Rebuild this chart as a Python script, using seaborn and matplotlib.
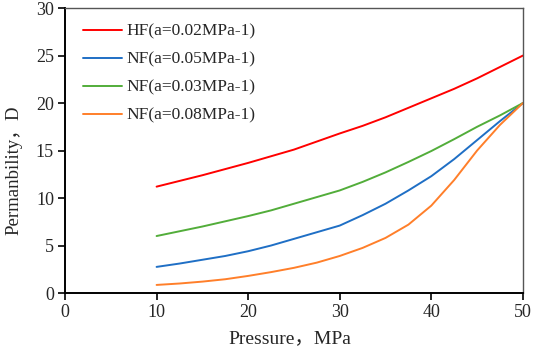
import pandas as pd
import matplotlib
matplotlib.use("Agg")
import matplotlib.pyplot as plt
import seaborn as sns

# Values
pressure = [10, 12.5, 15, 17.5, 20, 22.5, 25, 27.5, 30, 32.5, 35, 37.5, 40, 42.5, 45, 47.5, 50]
hf_002 = [11.2, 11.8, 12.4, 13.05, 13.7, 14.4, 15.1, 15.95, 16.8, 17.6, 18.5, 19.5, 20.5, 21.5, 22.6, 23.8, 25.0]
nf_005 = [2.75, 3.1, 3.5, 3.9, 4.4, 5.0, 5.7, 6.4, 7.1, 8.2, 9.4, 10.8, 12.3, 14.1, 16.1, 18.1, 20.0]
nf_003 = [6.0, 6.5, 7.0, 7.55, 8.1, 8.7, 9.4, 10.1, 10.8, 11.7, 12.7, 13.8, 14.95, 16.2, 17.5, 18.7, 20.0]
nf_008 = [0.85, 1.0, 1.2, 1.45, 1.8, 2.2, 2.65, 3.2, 3.9, 4.75, 5.8, 7.2, 9.2, 11.9, 15.0, 17.7, 20.0]

labels = ["HF(a=0.02MPa-1)", "NF(a=0.05MPa-1)", "NF(a=0.03MPa-1)", "NF(a=0.08MPa-1)"]
colors = ["#ff0000", "#1f6fc5", "#52ad3a", "#ff7f2a"]

df = pd.concat([
    pd.DataFrame({"Pressure": pressure, "Perm": vals, "series": lab})
    for lab, vals in zip(labels, [hf_002, nf_005, nf_003, nf_008])
])

sns.set_style("ticks")
plt.rcParams["font.family"] = ["Liberation Serif", "Noto Sans CJK SC"]

fig = plt.figure(figsize=(5.33, 3.52), dpi=100)
ax = fig.add_axes([0.122, 0.1676, 0.859, 0.8094])

sns.lineplot(data=df, x="Pressure", y="Perm", hue="series", hue_order=labels,
             palette=dict(zip(labels, colors)), linewidth=1.4, ax=ax)

ax.set_xlim(0, 50)
ax.set_ylim(0, 30)
ax.set_xticks(range(0, 51, 10))
ax.set_yticks(range(0, 31, 5))
ax.tick_params(axis="both", labelsize=13, length=5, width=1.2, color="black", pad=3)

for side in ["left", "bottom"]:
    ax.spines[side].set_color("black")
    ax.spines[side].set_linewidth(1.4)
for side in ["top", "right"]:
    ax.spines[side].set_visible(True)
    ax.spines[side].set_color("#555555")
    ax.spines[side].set_linewidth(1.0)

ax.set_xlabel("Pressure，MPa", fontsize=14)
ax.set_ylabel("Permanbility，D", fontsize=13.5)
ax.xaxis.set_label_coords(0.491, -0.13)
ax.yaxis.set_label_coords(-0.092, 0.43)

ax.legend(loc="upper left", frameon=False, fontsize=12.5,
          handlelength=2.25, handletextpad=0.25, labelspacing=0.68,
          borderaxespad=0, bbox_to_anchor=(0.024, 0.97))

fig.savefig("out.png", dpi=100)
